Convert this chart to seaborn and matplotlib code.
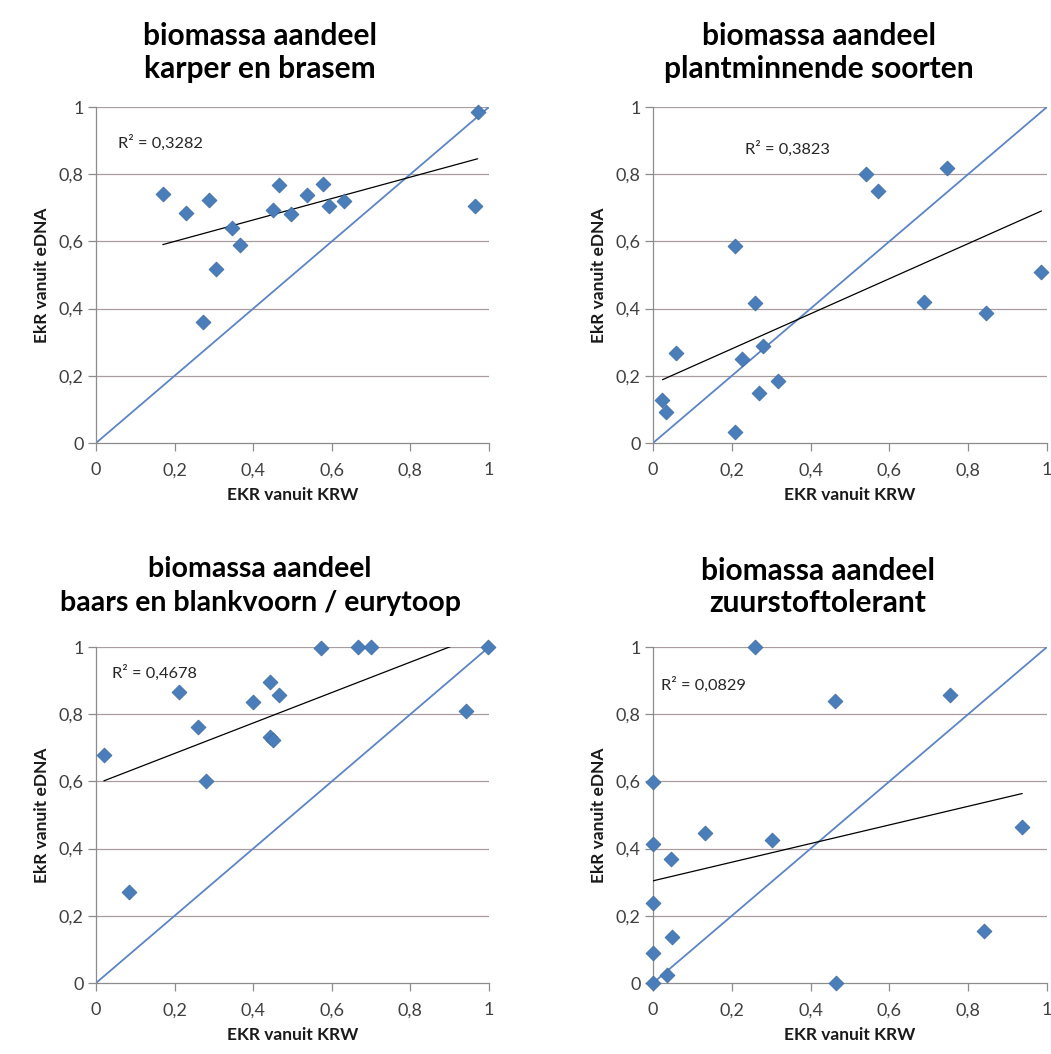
import numpy as np
import pandas as pd
import matplotlib
matplotlib.use("Agg")
import matplotlib.pyplot as plt
import seaborn as sns

# EKR scores per water body: from the KRW fish assessment (x) and from eDNA (y)
karper_krw = [0.170, 0.230, 0.288, 0.273, 0.305, 0.347, 0.366, 0.451, 0.466, 0.496,
              0.537, 0.578, 0.594, 0.631, 0.964, 0.971]
karper_edna = [0.742, 0.686, 0.722, 0.359, 0.519, 0.641, 0.590, 0.693, 0.769, 0.681,
               0.737, 0.770, 0.705, 0.720, 0.705, 0.986]

plant_krw = [0.024, 0.032, 0.059, 0.207, 0.208, 0.226, 0.260, 0.269, 0.280, 0.318,
             0.540, 0.570, 0.687, 0.747, 0.845, 0.986]
plant_edna = [0.129, 0.091, 0.269, 0.586, 0.033, 0.249, 0.416, 0.150, 0.289, 0.186,
              0.800, 0.749, 0.420, 0.819, 0.386, 0.508]

baars_krw = [0.020, 0.084, 0.212, 0.260, 0.280, 0.399, 0.443, 0.444, 0.451, 0.466,
             0.573, 0.666, 0.701, 0.941, 0.998]
baars_edna = [0.679, 0.271, 0.866, 0.763, 0.601, 0.837, 0.896, 0.732, 0.722, 0.857,
              0.997, 1.000, 1.000, 0.811, 1.000]

zuur_krw = [0.000, 0.000, 0.000, 0.000, 0.000, 0.045, 0.047, 0.036, 0.133, 0.301,
            0.260, 0.463, 0.464, 0.753, 0.841, 0.937]
zuur_edna = [0.597, 0.414, 0.239, 0.089, 0.000, 0.370, 0.136, 0.025, 0.445, 0.425,
             1.000, 0.838, 0.000, 0.857, 0.154, 0.463]

titles = ["biomassa aandeel\nkarper en brasem",
          "biomassa aandeel\nplantminnende soorten",
          "biomassa aandeel\nbaars en blankvoorn / eurytoop",
          "biomassa aandeel\nzuurstoftolerant"]
r2_labels = ["R² = 0,3282", "R² = 0,3823", "R² = 0,4678", "R² = 0,0829"]
r2_pos = [(0.056, 0.893), (0.234, 0.875), (0.040, 0.922), (0.021, 0.886)]
tick_values = [0, 0.2, 0.4, 0.6, 0.8, 1]
tick_labels = ["0", "0,2", "0,4", "0,6", "0,8", "1"]
x_label = "EKR vanuit KRW"
y_label = "EkR vanuit eDNA"

panels = [(karper_krw, karper_edna), (plant_krw, plant_edna),
          (baars_krw, baars_edna), (zuur_krw, zuur_edna)]

sns.set_theme(style="white")
plt.rcParams["font.family"] = ["Lato", "DejaVu Sans"]

W, H = 1051, 1054
fig = plt.figure(figsize=(W / 100, H / 100), dpi=100)
fig.patch.set_facecolor("white")

# axes boxes in pixels: left, top, right, bottom
boxes = [(96, 107, 489, 443), (653, 107, 1047, 443),
         (96, 647, 489, 983), (653, 647, 1047, 983)]
title_pos = [(260, 36, 69), (819, 36, 69), (260, 569, 603), (818, 571, 603)]
title_size = [21.5, 21.5, 20.5, 21.5]

blue = "#4a7ebb"
grid_col = "#a89c9c"
spine_col = "#8c8c8c"
text_col = "#404040"

for i, ((xs, ys), (l, t, r, b)) in enumerate(zip(panels, boxes)):
    ax = fig.add_axes([l / W, 1 - b / H, (r - l) / W, (b - t) / H])
    df = pd.DataFrame({"krw": xs, "edna": ys})
    ax.set_xlim(0, 1)
    ax.set_ylim(0, 1)

    for v in tick_values[1:]:
        ax.axhline(v, color=grid_col, lw=0.9, zorder=1)

    ax.axline((0, 0), slope=1, color="#5b85c6", lw=1.3, zorder=2)
    sns.regplot(data=df, x="krw", y="edna", scatter=False, ci=None, truncate=True,
                color="black", line_kws={"lw": 0.9, "zorder": 3}, ax=ax)
    sns.scatterplot(data=df, x="krw", y="edna", marker="D", s=58, color=blue,
                    edgecolor="#3d6aa3", linewidth=0.5, zorder=5, clip_on=False, ax=ax)

    ax.text(r2_pos[i][0], r2_pos[i][1], r2_labels[i], fontsize=11.8, color="#262626",
            ha="left", va="center", transform=ax.transAxes)

    ax.set_xticks(tick_values)
    ax.set_xticklabels(tick_labels)
    ax.set_yticks(tick_values)
    ax.set_yticklabels(tick_labels)
    ax.tick_params(axis="both", which="major", direction="out", length=6, width=0.9,
                   color=spine_col, labelsize=13, labelcolor=text_col)
    ax.tick_params(axis="x", pad=8)
    ax.tick_params(axis="y", pad=3)
    ax.tick_params(left=True, bottom=True)

    for side in ["top", "right"]:
        ax.spines[side].set_visible(False)
    for side in ["left", "bottom"]:
        ax.spines[side].set_color(spine_col)
        ax.spines[side].set_linewidth(0.9)

    ax.set_xlabel(x_label, fontsize=12.5, fontweight="bold", color="#1a1a1a", labelpad=6)
    ax.set_ylabel(y_label, fontsize=12.5, fontweight="bold", color="#1a1a1a", labelpad=6)

    cx, y1, y2 = title_pos[i]
    line1, line2 = titles[i].split("\n")
    fig.text(cx / W, 1 - y1 / H, line1, ha="center", va="center",
             fontsize=title_size[i], fontweight="bold", color="black")
    fig.text(cx / W, 1 - y2 / H, line2, ha="center", va="center",
             fontsize=title_size[i], fontweight="bold", color="black")

fig.savefig("out.png", dpi=100, facecolor="white")
